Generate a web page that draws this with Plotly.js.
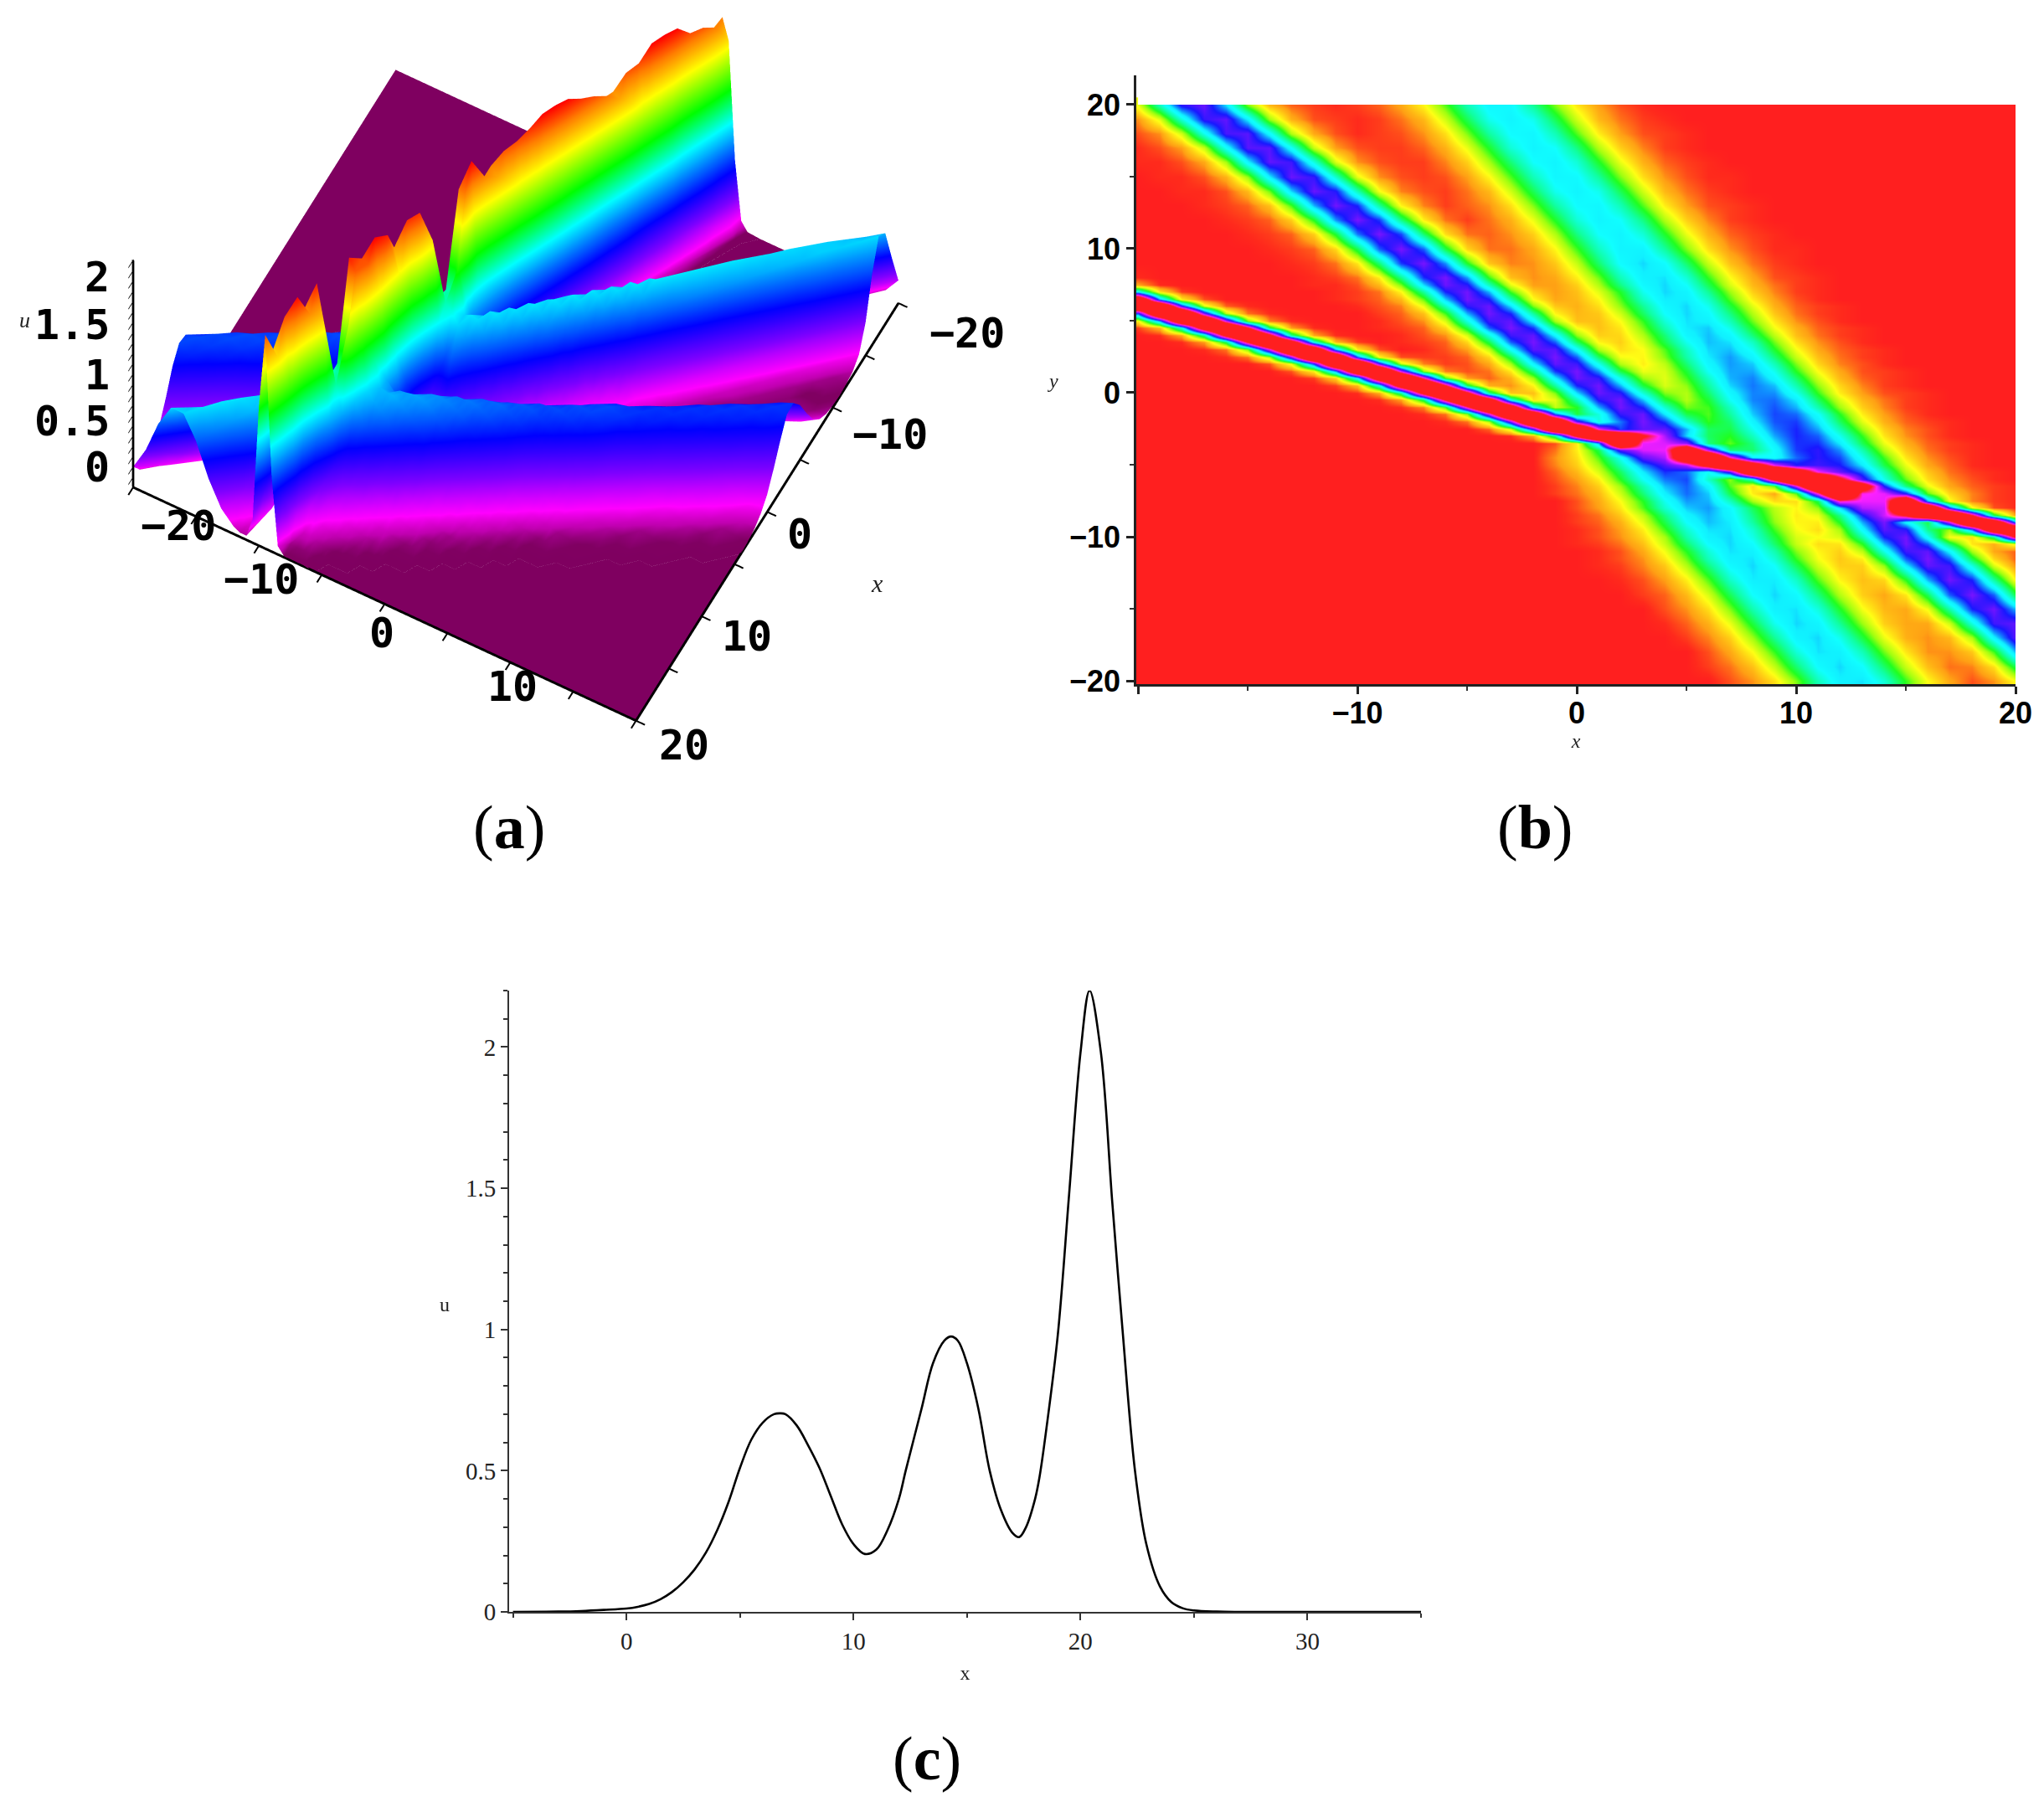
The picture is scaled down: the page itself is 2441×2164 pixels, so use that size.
<!DOCTYPE html>
<html><head><meta charset="utf-8">
<script src="https://cdn.plot.ly/plotly-3.0.1.min.js"></script>
<style>html,body{margin:0;padding:0;background:#fff}</style>
</head><body><div id="chart" style="width:2441px;height:2164px"></div>
<script>
// u(x,y) (a),(b), in hundredths. Columns: gridX. Rows: gridY. Trailing zeros omitted.
const gridX=[-20,-19,-18,-17,-16,-15,-14,-13,-12,-11,-10,-9,-8,-7,-6,-5,-4,-3,-2,-1,0,1,2,3,4,5,6,7,8,9,10,11,12,13,14,15,16,17,18,19,20];
const gridY=[20,19,18,17,16,15,14,13,12,11,10,9,8,7.5,7,6.5,6,5.5,5,4.5,4,3.5,3,2.5,2,1.5,1,0.5,0,-0.5,-1,-1.5,-2,-2.5,-3,-3.5,-4,-4.5,-5,-5.5,-6,-6.5,-7,-7.5,-8,-8.5,-9,-9.5,-10,-10.5,-11,-11.5,-12,-13,-14,-15,-16,-17,-18,-19,-20];
const uCents=[
[22,54,88,95,69,32,11,4,2,1,2,4,9,19,35,53,65,64,49,32,17,8,3,1],
[7,23,57,89,94,67,30,10,3,2,1,2,5,11,25,43,60,66,60,43,25,11,5,2,1],
[3,7,25,60,91,93,64,28,9,3,1,2,3,7,16,32,50,63,65,53,35,18,8,3,2,1],
[1,3,8,26,62,93,93,62,26,8,3,2,2,4,10,22,39,57,66,62,47,28,14,6,2,1],
[1,1,3,9,29,66,94,90,58,24,7,3,2,2,6,14,29,46,62,66,57,39,22,10,4,2,1],
[0,1,1,3,10,30,67,95,89,56,23,7,3,2,3,8,19,35,53,65,64,50,32,16,7,3,1,1],
[0,0,1,1,3,11,33,70,95,87,53,21,6,3,2,5,11,25,43,60,66,60,43,25,11,5,2,1],
[0,0,0,1,2,4,12,36,73,96,85,50,19,6,2,4,7,16,32,50,63,65,53,35,18,8,3,2,1],
[0,0,0,0,1,2,4,14,39,76,97,83,47,18,5,2,5,10,22,39,57,66,62,47,28,14,6,2,1],
[0,0,0,0,0,1,2,4,14,40,78,97,82,45,16,5,4,7,14,28,47,62,66,57,39,22,10,4,2,1],
[0,0,0,0,0,0,1,2,4,15,42,80,97,80,42,15,5,5,9,19,36,54,66,66,50,32,16,7,3,1,1],
[0,0,0,0,0,0,0,1,2,5,17,46,83,97,76,39,13,6,7,13,26,45,63,70,63,45,26,12,5,2,1],
[1,0,0,0,0,0,0,0,1,2,5,18,48,84,97,75,37,12,7,9,18,33,53,67,69,57,37,20,9,3,2,1],
[9,1,0,0,0,0,0,0,1,1,3,11,32,69,95,88,54,23,8,8,14,28,47,64,70,62,43,24,11,5,2,1],
[65,17,2,0,0,0,0,0,0,1,2,5,19,50,85,96,73,36,14,8,12,23,39,60,70,66,49,30,14,6,2,1],
[178,74,18,3,0,0,0,0,0,1,2,4,11,34,71,96,86,52,20,9,11,19,35,55,68,68,55,35,18,8,3,1],
[198,198,90,24,4,1,0,0,0,0,1,3,6,22,54,88,95,69,32,13,10,16,31,49,65,70,60,41,23,10,4,2,1],
[82,190,205,100,28,5,1,0,0,0,0,2,4,12,36,73,96,85,50,19,11,13,25,44,62,70,64,47,28,13,5,2,1],
[18,74,178,207,110,34,6,1,0,0,0,1,3,7,24,58,90,94,66,29,12,12,20,37,57,69,67,53,33,17,7,3,1],
[2,11,60,158,219,135,44,8,1,0,0,1,2,4,15,42,80,97,83,46,20,12,17,33,52,68,71,59,39,21,10,4,2,1],
[0,1,9,50,145,220,145,50,9,1,0,0,1,3,7,24,58,90,94,66,31,14,15,28,46,65,72,65,46,27,12,5,2,1],
[0,0,1,8,44,135,219,158,60,11,2,0,1,2,4,15,42,80,97,80,44,19,14,24,42,60,72,69,54,33,16,7,3,1],
[0,0,0,1,5,32,110,207,178,74,18,3,0,1,3,8,26,62,93,93,64,29,16,20,35,54,70,72,60,39,21,9,4,2,1],
[0,0,0,0,1,5,28,100,205,190,82,20,3,2,2,4,15,42,80,97,80,44,21,19,32,51,68,75,66,46,26,12,5,2,1],
[0,0,0,0,0,0,3,22,85,194,200,95,26,6,2,3,9,29,66,94,90,60,28,18,27,46,65,75,71,53,32,15,6,3,1],
[0,0,0,0,0,0,0,3,18,74,178,207,110,32,6,3,5,17,46,83,97,76,42,22,24,40,61,74,74,60,38,20,9,3,2,1],
[0,0,0,0,0,0,0,0,2,14,65,165,212,120,36,8,4,10,30,67,95,89,59,30,23,36,55,73,77,65,45,25,11,4,2,1],
[0,0,0,0,0,0,0,0,0,2,11,60,158,219,135,44,10,7,19,50,85,96,73,41,24,31,50,70,78,72,52,31,15,6,2,1],
[0,0,0,0,0,0,0,0,0,0,1,9,50,145,220,145,50,13,12,32,69,95,88,57,32,28,45,65,77,76,60,37,18,8,3,2,1],
[0,0,0,0,0,0,0,0,0,0,0,1,8,44,135,219,158,60,17,23,53,87,96,72,41,28,40,61,77,79,68,44,24,11,5,2,1],
[0,0,0,0,0,0,0,0,0,0,0,0,1,6,36,120,212,165,65,26,38,73,96,85,56,33,36,54,74,81,73,52,30,14,6,2,1],
[0,0,0,0,0,0,0,0,0,0,0,0,0,1,5,32,110,207,178,80,41,58,89,95,68,42,35,50,71,82,79,62,38,18,8,3,1],
[0,0,0,0,0,0,0,0,0,0,0,0,0,0,1,5,28,100,205,190,94,58,78,97,83,55,37,45,66,81,83,68,44,23,10,4,2,1],
[0,0,0,0,0,0,0,0,0,0,0,0,0,0,0,0,4,24,90,198,198,114,82,94,94,73,44,42,60,78,85,74,52,30,14,6,3,1],
[0,0,0,0,0,0,0,0,0,0,0,0,0,0,0,0,0,1,9,50,145,220,199,138,104,70,44,38,54,74,85,80,60,37,17,7,3,1],
[0,0,0,0,0,0,0,0,0,0,0,0,0,0,0,0,0,0,0,3,18,74,200,112,110,101,47,34,47,68,84,84,68,43,22,10,4,2,1],
[0,0,0,0,0,0,0,0,0,0,0,0,0,0,0,0,0,0,0,5,18,42,93,110,112,178,106,47,45,63,83,88,76,52,28,13,5,2,1],
[0,0,0,0,0,0,0,0,0,0,0,0,0,0,0,0,0,0,0,7,16,35,61,94,105,175,212,120,67,62,79,88,82,60,36,17,7,3,1],
[0,0,0,0,0,0,0,0,0,0,0,0,0,0,0,0,0,0,0,6,14,29,52,77,92,106,152,212,165,112,87,90,86,68,42,22,9,4,1],
[0,0,0,0,0,0,0,0,0,0,0,0,0,0,0,0,0,0,0,4,11,24,44,68,84,79,61,95,193,215,168,114,95,79,52,27,13,5,2,1],
[0,0,0,0,0,0,0,0,0,0,0,0,0,0,0,0,0,0,0,3,8,18,38,61,78,82,55,31,56,147,220,205,142,92,60,34,16,7,3,1],
[0,0,0,0,0,0,0,0,0,0,0,0,0,0,0,0,0,0,0,2,6,14,30,52,72,80,66,35,16,35,112,207,205,164,86,47,22,9,4,2,1],
[0,0,0,0,0,0,0,0,0,0,0,0,0,0,0,0,0,0,0,2,5,11,25,46,67,79,71,42,18,9,35,116,215,115,112,87,35,15,6,2,1],
[0,0,0,0,0,0,0,0,0,0,0,0,0,0,0,0,0,0,0,0,3,9,20,38,60,75,73,54,29,16,16,42,119,112,112,185,75,21,6,2,1],
[0,0,0,0,0,0,0,0,0,0,0,0,0,0,0,0,0,0,0,0,3,8,17,35,56,71,75,64,43,27,19,31,69,105,108,215,195,85,22,3,1],
[0,0,0,0,0,0,0,0,0,0,0,0,0,0,0,0,0,0,0,0,2,5,13,27,47,66,73,66,47,29,18,22,48,85,108,136,197,219,135,44,8],
[0,0,0,0,0,0,0,0,0,0,0,0,0,0,0,0,0,0,0,0,2,4,10,23,42,62,72,68,50,31,19,18,39,74,97,65,42,112,207,178,74],
[0,0,0,0,0,0,0,0,0,0,0,0,0,0,0,0,0,0,0,0,1,3,8,18,36,56,69,69,56,36,21,16,29,64,93,88,48,30,78,179,207],
[0,0,0,0,0,0,0,0,0,0,0,0,0,0,0,0,0,0,0,0,1,3,7,15,29,51,67,70,59,41,24,20,24,51,85,96,62,21,16,47,136],
[0,0,0,0,0,0,0,0,0,0,0,0,0,0,0,0,0,0,0,0,1,2,5,12,26,45,63,70,63,45,26,16,17,38,73,96,80,44,17,10,23],
[0,0,0,0,0,0,0,0,0,0,0,0,0,0,0,0,0,0,0,0,0,1,3,9,21,38,57,69,67,52,32,19,14,27,59,90,94,66,29,9,4],
[0,0,0,0,0,0,0,0,0,0,0,0,0,0,0,0,0,0,0,0,0,1,3,7,17,33,53,67,69,57,37,21,13,18,44,80,97,80,42,15,4],
[0,0,0,0,0,0,0,0,0,0,0,0,0,0,0,0,0,0,0,0,0,1,2,6,13,28,47,64,70,62,43,25,14,14,31,67,94,90,58,24,7],
[0,0,0,0,0,0,0,0,0,0,0,0,0,0,0,0,0,0,0,0,0,0,1,3,8,18,35,55,68,68,55,35,19,12,15,38,73,96,85,50,19],
[0,0,0,0,0,0,0,0,0,0,0,0,0,0,0,0,0,0,0,0,0,0,0,2,4,11,24,43,62,70,64,47,28,14,9,17,43,80,97,80,42],
[0,0,0,0,0,0,0,0,0,0,0,0,0,0,0,0,0,0,0,0,0,0,0,0,3,7,16,32,52,67,69,58,39,21,11,9,21,51,85,96,73],
[0,0,0,0,0,0,0,0,0,0,0,0,0,0,0,0,0,0,0,0,0,0,0,0,1,4,10,22,41,60,70,66,49,30,14,9,9,25,58,90,94],
[0,0,0,0,0,0,0,0,0,0,0,0,0,0,0,0,0,0,0,0,0,0,0,0,0,2,6,14,30,49,66,70,60,41,22,10,7,11,29,66,94],
[0,0,0,0,0,0,0,0,0,0,0,0,0,0,0,0,0,0,0,0,0,0,0,0,0,0,3,9,20,37,57,69,67,53,33,17,7,7,13,36,73],
[0,0,0,0,0,0,0,0,0,0,0,0,0,0,0,0,0,0,0,0,0,0,0,0,0,0,2,5,12,26,45,63,70,63,45,26,12,5,6,16,42],
[0,0,0,0,0,0,0,0,0,0,0,0,0,0,0,0,0,0,0,0,0,0,0,0,0,0,0,3,7,16,32,53,67,69,57,37,20,9,3,7,20]
];
// panel (c) profile
const profileX=[-5,-3,-2,-1,0,0.5,1,1.5,2,2.5,3,3.5,4,4.5,5,5.5,6,6.5,6.76,7,7.5,8,8.5,9,9.5,10,10.5,11,11.5,12,12.3,13,13.5,14,14.3,14.6,15,15.5,16,16.5,17,17.3,17.6,18,18.2,18.5,19,19.5,20,20.4,20.9,21.4,21.85,22.4,22.9,23.5,24,24.5,25,26,27,35];
const profileU=[0,0.001,0.003,0.007,0.012,0.018,0.028,0.045,0.07,0.105,0.15,0.21,0.29,0.39,0.51,0.61,0.67,0.70,0.703,0.70,0.66,0.59,0.51,0.41,0.31,0.24,0.205,0.22,0.29,0.40,0.50,0.72,0.88,0.96,0.975,0.96,0.88,0.72,0.50,0.36,0.28,0.265,0.30,0.40,0.48,0.65,0.98,1.48,1.98,2.2,1.98,1.45,1.0,0.5,0.24,0.09,0.035,0.013,0.005,0.001,0,0];

const uGrid=uCents.map(r=>{const o=r.map(v=>v/100);while(o.length<gridX.length)o.push(0);return o;});
const W=2441,H=2164;
const fx=p=>p/W, fy=p=>1-p/H;

// mesh of the grid, each quad split along the ridges' direction
const mx=[],my=[],mz=[],mi=[],mj=[],mk=[];
const nc=gridX.length,nr=gridY.length;
for(let r=0;r<nr;r++)for(let c=0;c<nc;c++){mx.push(gridX[c]);my.push(gridY[r]);mz.push(uGrid[r][c]);}
for(let r=0;r<nr-1;r++)for(let c=0;c<nc-1;c++){
  const a=r*nc+c,b=a+1,d=(r+1)*nc+c+1,e=(r+1)*nc+c;
  mi.push(a,a);mj.push(b,d);mk.push(d,e);
}

const heatScale=[[0,'#ff1f1f'],[0.0045,'#ff2a1c'],[0.018,'#ff6018'],[0.036,'#ffa014'],[0.064,'#ffd014'],[0.091,'#ffff14'],[0.136,'#a0ff10'],[0.173,'#20ff20'],[0.227,'#10ffa0'],[0.282,'#10ffff'],[0.309,'#10f0ff'],[0.345,'#1090ff'],[0.39,'#1818ff'],[0.432,'#6a14ff'],[0.455,'#8a14ff'],[0.518,'#ff20ff'],[0.555,'#ff2090'],[0.6,'#ff1f1f'],[1,'#ff1f1f']];
const surfScale=[[0,'#7f0060'],[0.005,'#800062'],[0.02,'#c000b0'],[0.05,'#ff00ff'],[0.14,'#8000ff'],[0.26,'#0000ff'],[0.36,'#0080ff'],[0.46,'#00ffff'],[0.6,'#00ff00'],[0.78,'#ffff00'],[0.9,'#ff8000'],[1,'#ff0000']];

const traces=[
 {type:'mesh3d',x:mx,y:my,z:mz,i:mi,j:mj,k:mk,intensity:mz,intensitymode:'vertex',cmin:0,cmax:2.2,colorscale:surfScale,showscale:false,scene:'scene',flatshading:false,
  lighting:{ambient:1,diffuse:0,specular:0,roughness:1,fresnel:0},hoverinfo:'skip'},
 {type:'heatmap',x:gridX,y:gridY,z:uGrid,zmin:0,zmax:2.2,zsmooth:'best',colorscale:heatScale,showscale:false,xaxis:'x',yaxis:'y'},
 {type:'scatter',mode:'lines',x:profileX,y:profileU,line:{color:'#000',width:2.6,shape:'spline',smoothing:1},xaxis:'x2',yaxis:'y2'}
];

const boldNarrow={family:'"Liberation Sans",sans-serif',size:36,color:'#000',weight:'bold'};
const serif={family:'"Liberation Serif",serif',size:29,color:'#222'};
const mono={family:'"DejaVu Sans Mono",monospace',size:50,color:'#000',weight:'bold'};
const ital=(s)=>({family:'"Liberation Serif",serif',size:s,color:'#222',style:'italic'});
function note(text,px,py,font,anchor){return {text,x:fx(px),y:fy(py),xref:'paper',yref:'paper',showarrow:false,font,xanchor:anchor||'center',yanchor:'middle'};}
const lab={family:'"Liberation Serif",serif',size:74,color:'#000'};

const axis3={showbackground:false,showgrid:false,zeroline:false,showspikes:false,showline:true,linecolor:'#000',linewidth:6,ticks:'outside',ticklen:12,tickwidth:4,tickcolor:'#000',showticklabels:false,title:{text:''}};

const layout={
 width:W,height:H,margin:{l:0,r:0,t:0,b:0},paper_bgcolor:'#fff',plot_bgcolor:'#fff',showlegend:false,
 scene:{domain:{x:[116/W,1116/W],y:[1-1000/H,1]},aspectmode:'manual',aspectratio:{x:1.319,y:1.365,z:1.061},
  camera:{projection:{type:'orthographic'},eye:{x:1.135,y:0.613,z:1.528},up:{x:0,y:0,z:1},center:{x:0,y:0,z:-0.64}},
  xaxis:Object.assign({},axis3,{range:[-20,20],dtick:5}),
  yaxis:Object.assign({},axis3,{range:[-20,20],dtick:5}),
  zaxis:Object.assign({},axis3,{range:[0,2.2],dtick:0.1,ticklen:10,tickwidth:3})},
 xaxis:{domain:[1357/W,2407/W],range:[-20.08,20],anchor:'y',tickmode:'array',tickvals:[-20,-10,0,10,20],ticktext:['','−10','0','10','20'],ticks:'outside',ticklen:9,tickwidth:2.5,tickcolor:'#222',linecolor:'#222',linewidth:2.5,showline:true,showgrid:false,zeroline:false,tickfont:boldNarrow,ticklabelstandoff:-8,minor:{dtick:5,ticks:'outside',ticklen:5,tickwidth:2,tickcolor:'#333',showgrid:false},title:{text:'x',font:ital(24),standoff:6}},
 yaxis:{domain:[fy(817),fy(90)],range:[-20.23,22.03],anchor:'x',tickmode:'array',tickvals:[-20,-10,0,10,20],ticktext:['−20','−10','0','10','20'],ticks:'outside',ticklen:9,tickwidth:2.5,tickcolor:'#222',linecolor:'#222',linewidth:2.5,showline:true,showgrid:false,zeroline:false,tickfont:boldNarrow,minor:{dtick:5,ticks:'outside',ticklen:5,tickwidth:2,tickcolor:'#333',showgrid:false}},
 xaxis2:{domain:[608/W,1697/W],range:[-5.17,35],anchor:'y2',tickmode:'array',tickvals:[0,10,20,30],ticks:'outside',ticklen:8,tickwidth:1.5,tickcolor:'#333',linecolor:'#333',linewidth:2,showline:true,showgrid:false,zeroline:false,tickfont:serif,minor:{dtick:5,ticks:'outside',ticklen:5,tickwidth:1.5,tickcolor:'#333',showgrid:false},title:{text:'x',font:{family:'"Liberation Serif",serif',size:24,color:'#222'},standoff:14}},
 yaxis2:{domain:[fy(1925),fy(1183)],range:[0,2.2],anchor:'x2',tickmode:'array',tickvals:[0,0.5,1,1.5,2],ticktext:['0','0.5','1','1.5','2'],ticks:'outside',ticklen:8,tickwidth:1.5,tickcolor:'#333',linecolor:'#333',linewidth:2,showline:true,showgrid:false,zeroline:false,tickfont:serif,minor:{dtick:0.1,ticks:'outside',ticklen:5,tickwidth:1.5,tickcolor:'#333',showgrid:false}},
 shapes:[{type:'rect',xref:'x',yref:'y',x0:-20,x1:20.2,y0:20,y1:22.1,fillcolor:'#fff',line:{width:0},layer:'above'}],
 annotations:[
  note('(<b>a</b>)',608,988,lab),note('(<b>b</b>)',1833,988,lab),note('(<b>c</b>)',1107,2100,lab),
  note('y',1257,455,ital(24)),note('u',531,1558,{family:'"Liberation Serif",serif',size:24,color:'#222'}),
  note('u',29,383,ital(26)),note('x',1047,696,ital(30)),
  note('2',133,331,mono,'right'),note('1.5',133,388,mono,'right'),note('1',133,448,mono,'right'),note('0.5',133,503,mono,'right'),note('0',133,558,mono,'right'),
  note('−20',213,628,mono),note('−10',312,692,mono),note('0',456,756,mono),note('10',612,820,mono),
  note('20',817,890,mono),note('10',892,760,mono),note('0',955,638,mono),note('−10',1063,519,mono),note('−20',1155,398,mono)
 ]
};
Plotly.newPlot('chart',traces,layout,{displayModeBar:false});
</script></body></html>
